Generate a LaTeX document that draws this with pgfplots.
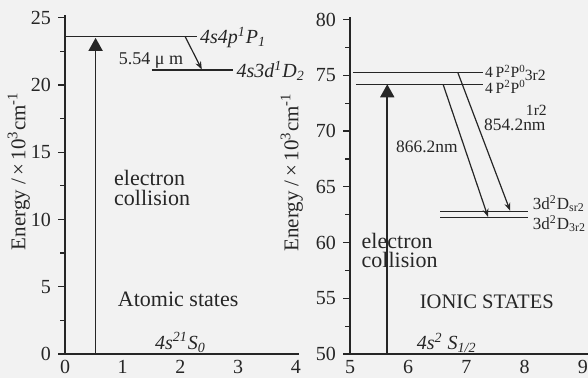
\documentclass[border=0pt]{standalone}
\usepackage{pgfplots}
\pgfplotsset{compat=1.18}
\usepackage{fontspec}
\setmainfont{Liberation Serif}
\usetikzlibrary{arrows.meta}
\definecolor{ink}{gray}{0.15}
\definecolor{paper}{gray}{0.95}
\begin{document}
\begin{tikzpicture}
\fill[paper] (0,0) rectangle (294pt,189pt);
\useasboundingbox (0,0) rectangle (294pt,189pt);
\pgfplotsset{
  common/.style={
    scale only axis, clip=false,
    axis x line=bottom, axis y line=left,
    axis line style={-, ink, line width=0.7pt},
    tick style={ink, line width=0.6pt},
    xtick style={draw=none},
    tick align=outside,
    major tick length=3.5pt, minor tick length=2.5pt,
    minor y tick num=1,
    enlargelimits=false,
    /pgf/number format/assume math mode=true,
    ticklabel style={font=\fontsize{10}{12}\selectfont, text=ink},
    xticklabel style={inner ysep=0.4pt, yshift=1.0pt},
    anchor=south west,
  },
  lvl/.style={ink, line width=0.7pt},
  trans/.style={ink, line width=0.6pt, -{Stealth[length=4pt,width=3pt]}},
  coll/.style={ink, line width=0.8pt, -{Triangle[length=6.5pt,width=7pt]}},
}
% ---------------- Atomic states ----------------
\begin{axis}[common, at={(32.5pt,12pt)}, width=116.9pt, height=169.5pt,
  xmin=0, xmax=4.05, ymin=0, ymax=25.2,
  xtick={0,1,2,3,4}, ytick={0,5,10,15,20,25}]
\addplot[lvl] coordinates {(0,23.6) (2.28,23.6)};
\addplot[lvl] coordinates {(1.5,21.1) (2.91,21.1)};
\addplot[trans] coordinates {(2.08,23.6) (2.37,21.15)};
\addplot[coll] coordinates {(0.53,0) (0.53,23.5)};
\node[anchor=west, text=ink, font=\itshape\fontsize{10}{12}\selectfont, inner sep=1pt] at (axis cs:2.30,23.55) {4s4p\textsuperscript{1}P\textsubscript{1}};
\node[anchor=west, text=ink, font=\itshape\fontsize{10}{12}\selectfont, inner sep=1pt] at (axis cs:2.93,21.05) {4s3d\textsuperscript{1}D\textsubscript{2}};
\node[text=ink, font=\fontsize{9}{11}\selectfont] at (axis cs:1.49,21.8) {5.54 μ m};
\node[anchor=west, text=ink, font=\fontsize{11}{13}\selectfont] at (axis cs:0.73,13.1) {electron};
\node[anchor=west, text=ink, font=\fontsize{11}{13}\selectfont] at (axis cs:0.73,11.6) {collision};
\node[text=ink, font=\fontsize{11}{13}\selectfont] at (axis cs:1.96,4.1) {Atomic states};
\node[text=ink, font=\itshape\fontsize{10}{12}\selectfont] at (axis cs:2.0,0.85) {4s\textsuperscript{21}S\textsubscript{0}};
\node[rotate=90, text=ink, font=\fontsize{10.5}{12}\selectfont] at (axis cs:-0.80,13.6) {Energy /\,×\,10\textsuperscript{3}cm\textsuperscript{-1}};
\end{axis}
% ---------------- Ionic states ----------------
\begin{axis}[common, at={(175pt,12pt)}, width=118.8pt, height=168.3pt,
  xmin=5, xmax=9.08, ymin=50, ymax=80.2,
  xtick={5,6,7,8,9}, ytick={50,55,60,65,70,75,80}]
\addplot[lvl] coordinates {(5.05,75.27) (7.28,75.27)};
\addplot[lvl] coordinates {(5.10,74.17) (7.28,74.17)};
\addplot[lvl] coordinates {(6.55,62.8) (8.06,62.8)};
\addplot[lvl] coordinates {(6.55,62.26) (8.06,62.26)};
\addplot[trans] coordinates {(6.85,75.27) (7.75,62.85)};
\addplot[trans] coordinates {(6.60,74.17) (7.37,62.3)};
\addplot[coll] coordinates {(5.64,50) (5.64,74.2)};
\node[anchor=west, text=ink, font=\fontsize{7.8}{9}\selectfont, inner sep=1pt] at (axis cs:7.28,75.35) {4\,P\textsuperscript{2}P\textsuperscript{0}};
\node[text=ink, font=\fontsize{7.8}{9}\selectfont] at (axis cs:8.18,75.0) {3r2};
\node[anchor=west, text=ink, font=\fontsize{7.8}{9}\selectfont, inner sep=1pt] at (axis cs:7.28,73.95) {4\,P\textsuperscript{2}P\textsuperscript{0}};
\node[text=ink, font=\fontsize{7.8}{9}\selectfont] at (axis cs:8.2,71.9) {1r2};
\node[anchor=west, text=ink, font=\fontsize{8.5}{10}\selectfont, inner sep=1pt] at (axis cs:8.1,63.5) {3d\textsuperscript{2}D\textsubscript{sr2}};
\node[anchor=west, text=ink, font=\fontsize{8.5}{10}\selectfont, inner sep=1pt] at (axis cs:8.1,61.7) {3d\textsuperscript{2}D\textsubscript{3r2}};
\node[text=ink, font=\fontsize{8.7}{10}\selectfont] at (axis cs:7.83,70.6) {854.2nm};
\node[text=ink, font=\fontsize{8.7}{10}\selectfont] at (axis cs:6.32,68.6) {866.2nm};
\node[anchor=west, text=ink, font=\fontsize{11}{13}\selectfont] at (axis cs:5.08,60.1) {electron};
\node[anchor=west, text=ink, font=\fontsize{11}{13}\selectfont] at (axis cs:5.08,58.4) {collision};
\node[text=ink, font=\fontsize{10.3}{12}\selectfont] at (axis cs:7.35,54.65) {IONIC STATES};
\node[text=ink, font=\itshape\fontsize{10}{12}\selectfont] at (axis cs:6.66,51.0) {4s\textsuperscript{2} S\textsubscript{1/2}};
\node[rotate=90, text=ink, font=\fontsize{10.5}{12}\selectfont] at (axis cs:4.0,66.3) {Energy /\,×\,10\textsuperscript{3}cm\textsuperscript{-1}};
\end{axis}
\end{tikzpicture}
\end{document}
